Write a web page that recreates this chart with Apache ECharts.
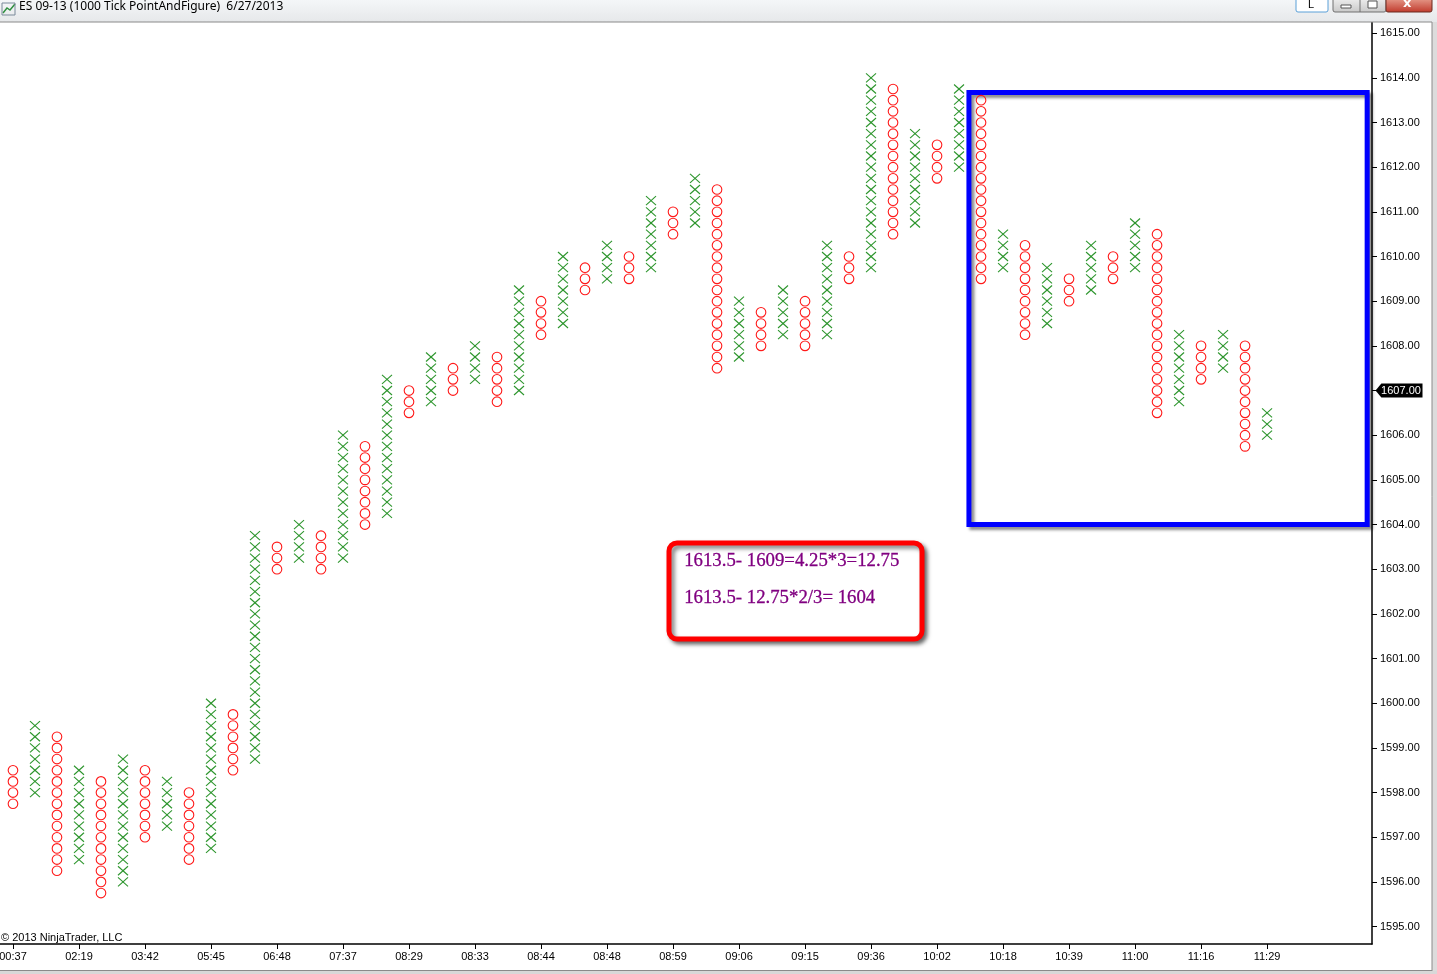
<!DOCTYPE html>
<html>
<head>
<meta charset="utf-8">
<title>ES 09-13 (1000 Tick PointAndFigure) 6/27/2013</title>
<script src="https://cdn.jsdelivr.net/npm/echarts@6/dist/echarts.min.js"></script>
<style>
  html, body { margin: 0; padding: 0; background: #fff; }
  #chart { width: 1437px; height: 974px; }
</style>
</head>
<body>
<div id="chart"></div>
<script>
// point & figure columns, box size 0.25, first column is O then X/O alternate
const boxSize = 0.25
const firstColumnIsX = false
const columnHigh = [
  1598.5, 1599.5, 1599.25, 1598.5, 1598.25, 1598.75, 1598.5, 1598.25, 1598.0, 1600.0,
  1599.75, 1603.75, 1603.5, 1604.0, 1603.75, 1606.0, 1605.75, 1607.25, 1607.0, 1607.75,
  1607.5, 1608.0, 1607.75, 1609.25, 1609.0, 1610.0, 1609.75, 1610.25, 1610.0, 1611.25,
  1611.0, 1611.75, 1611.5, 1609.0, 1608.75, 1609.25, 1609.0, 1610.25, 1610.0, 1614.0,
  1613.75, 1612.75, 1612.5, 1613.75, 1613.5, 1610.5, 1610.25, 1609.75, 1609.5, 1610.25,
  1610.0, 1610.75, 1610.5, 1608.25, 1608.0, 1608.25, 1608.0, 1606.5
]
const columnLow = [
  1597.75, 1598.0, 1596.25, 1596.5, 1595.75, 1596.0, 1597.0, 1597.25, 1596.5, 1596.75,
  1598.5, 1598.75, 1603.0, 1603.25, 1603.0, 1603.25, 1604.0, 1604.25, 1606.5, 1606.75,
  1607.0, 1607.25, 1606.75, 1607.0, 1608.25, 1608.5, 1609.25, 1609.5, 1609.5, 1609.75,
  1610.5, 1610.75, 1607.5, 1607.75, 1608.0, 1608.25, 1608.0, 1608.25, 1609.5, 1609.75,
  1610.5, 1610.75, 1611.75, 1612.0, 1609.5, 1609.75, 1608.25, 1608.5, 1609.0, 1609.25,
  1609.5, 1609.75, 1606.5, 1606.75, 1607.25, 1607.5, 1605.75, 1606.0
]
// time label under every 3rd column
const labelEvery = 3
const timeLabels = [
  '00:37', '02:19', '03:42', '05:45', '06:48', '07:37', '08:29', '08:33', '08:44', '08:48',
  '08:59', '09:06', '09:15', '09:36', '10:02', '10:18', '10:39', '11:00', '11:16', '11:29'
]
const priceTicks = [
  1595, 1596, 1597, 1598, 1599, 1600, 1601, 1602, 1603, 1604, 1605,
  1606, 1607, 1608, 1609, 1610, 1611, 1612, 1613, 1614, 1615
]
const lastPrice = 1607
// drawn target box (columns / prices) and the note next to it
const targetCols = [43.45, 61.55]
const targetPrices = [1613.67, 1604]
const noteLines = ['1613.5- 1609=4.25*3=12.75', '1613.5- 12.75*2/3= 1604']

const xMin = -0.59
const xMax = 61.77
const green = '#2c952c'
const red = '#ff1a1a'

const columns = columnHigh.map((h, i) => {
  const isX = (i % 2 === 0) === firstColumnIsX ? 1 : 0
  return [i, columnLow[i], h, isX]
})

function renderColumn (params, api) {
  const col = api.value(0)
  const low = api.value(1)
  const high = api.value(2)
  const isX = api.value(3)
  const n = Math.round((high - low) / boxSize)
  const children = []
  for (let k = 0; k <= n; k++) {
    const p = api.coord([col, low + k * boxSize])
    if (isX) {
      children.push({ type: 'line', shape: { x1: p[0] - 5, y1: p[1] - 4.5, x2: p[0] + 5, y2: p[1] + 4.5 }, style: { stroke: green, lineWidth: 1.1 } })
      children.push({ type: 'line', shape: { x1: p[0] - 5, y1: p[1] + 4.5, x2: p[0] + 5, y2: p[1] - 4.5 }, style: { stroke: green, lineWidth: 1.1 } })
    } else {
      children.push({ type: 'circle', shape: { cx: p[0], cy: p[1], r: 4.8 }, style: { fill: null, stroke: red, lineWidth: 1.1 } })
    }
  }
  return { type: 'group', children: children }
}

const tickCols = timeLabels.map((t, i) => i * labelEvery)
const axisFont = { fontFamily: 'Liberation Sans', fontSize: 11, color: '#000' }

const chart = echarts.init(document.getElementById('chart'))
const options = {
  animation: false,
  backgroundColor: '#fff',
  grid: { left: 0, right: 65, top: 22, bottom: 30, outerBoundsMode: 'none', containLabel: false },
  xAxis: {
    type: 'value',
    min: xMin,
    max: xMax,
    splitLine: { show: false },
    axisLine: { show: true, onZero: false, lineStyle: { color: '#000', width: 1.5 } },
    axisTick: { show: true, customValues: tickCols, length: 5, lineStyle: { color: '#000' } },
    axisLabel: Object.assign({
      customValues: tickCols,
      margin: 7,
      formatter: v => timeLabels[Math.round(v / labelEvery)]
    }, axisFont)
  },
  yAxis: {
    type: 'value',
    position: 'right',
    min: 1594.61,
    max: 1615.25,
    splitLine: { show: false },
    axisLine: { show: true, onZero: false, lineStyle: { color: '#000', width: 1.5 } },
    axisTick: { show: true, customValues: priceTicks, length: 5, lineStyle: { color: '#000' } },
    axisLabel: Object.assign({
      customValues: priceTicks.filter(p => p !== lastPrice),
      margin: 8,
      formatter: v => v.toFixed(2)
    }, axisFont)
  },
  series: [
    {
      type: 'custom',
      renderItem: renderColumn,
      data: columns,
      clip: false,
      markArea: {
        silent: true,
        itemStyle: {
          color: 'rgba(0,0,0,0)',
          borderColor: '#0000ff',
          borderWidth: 5,
          shadowColor: 'rgba(0,0,0,0.45)',
          shadowBlur: 3,
          shadowOffsetX: 3,
          shadowOffsetY: 3
        },
        data: [[
          { xAxis: targetCols[0], yAxis: targetPrices[0] },
          { xAxis: targetCols[1], yAxis: targetPrices[1] }
        ]]
      },
      markPoint: {
        silent: true,
        symbol: 'path://M0,7L6,0L48,0L48,14L6,14Z',
        symbolSize: [47, 14],
        symbolOffset: [27, 0],
        itemStyle: { color: '#000' },
        label: {
          show: true,
          offset: [2, 0],
          color: '#fff',
          fontFamily: 'Liberation Sans',
          fontSize: 11,
          formatter: () => lastPrice.toFixed(2)
        },
        data: [{ coord: [xMax, lastPrice] }]
      }
    }
  ],
  graphic: [
    // window title bar
    {
      type: 'rect', z: 100,
      shape: { x: 0, y: 0, width: 1437, height: 22 },
      style: {
        fill: new echarts.graphic.LinearGradient(0, 0, 0, 1, [
          { offset: 0, color: '#f4f6f8' }, { offset: 1, color: '#e6e8ea' }
        ])
      }
    },
    { type: 'polyline', z: 101, shape: { points: [[3, 13], [7, 8], [10, 10], [15, 4]] }, style: { stroke: '#2f8f3f', lineWidth: 1.5, fill: null } },
    { type: 'rect', z: 101, shape: { x: 2, y: 3, width: 13, height: 12 }, style: { fill: null, stroke: '#7a8a9a', lineWidth: 1 } },
    {
      type: 'text', z: 101, left: 19, top: 1,
      style: { text: 'ES 09-13 (1000 Tick PointAndFigure)  6/27/2013', fontFamily: 'Noto Sans', fontSize: 12, fill: '#000' }
    },
    { type: 'rect', z: 101, shape: { x: 1296, y: -2, width: 32, height: 14, r: 2 }, style: { fill: '#fff', stroke: '#5aa0d8', lineWidth: 1 } },
    { type: 'text', z: 102, left: 1308, top: -1, style: { text: 'L', fontFamily: 'Liberation Sans', fontSize: 11, fill: '#000' } },
    {
      type: 'rect', z: 101, shape: { x: 1333, y: -2, width: 53, height: 14, r: 2 },
      style: {
        fill: new echarts.graphic.LinearGradient(0, 0, 0, 1, [
          { offset: 0, color: '#f0f0f0' }, { offset: 1, color: '#c8c8c8' }
        ]),
        stroke: '#707070', lineWidth: 1
      }
    },
    { type: 'line', z: 102, shape: { x1: 1360, y1: -2, x2: 1360, y2: 12 }, style: { stroke: '#707070' } },
    { type: 'rect', z: 102, shape: { x: 1341, y: 5, width: 10, height: 3 }, style: { fill: '#fff', stroke: '#555' } },
    { type: 'rect', z: 102, shape: { x: 1368, y: 1, width: 9, height: 7 }, style: { fill: '#fff', stroke: '#555' } },
    {
      type: 'rect', z: 101, shape: { x: 1386, y: -2, width: 46, height: 14, r: 2 },
      style: {
        fill: new echarts.graphic.LinearGradient(0, 0, 0, 1, [
          { offset: 0, color: '#e8a090' }, { offset: 1, color: '#c0392b' }
        ]),
        stroke: '#6a2a20', lineWidth: 1
      }
    },
    { type: 'text', z: 102, left: 1403, top: -3, style: { text: 'x', fontFamily: 'DejaVu Sans', fontWeight: 'bold', fontSize: 13, fill: '#fff' } },
    // panel frame
    { type: 'line', z: 100, shape: { x1: 0, y1: 22, x2: 1432, y2: 22 }, style: { stroke: '#8a8a8a', lineWidth: 1 } },
    { type: 'rect', z: 99, shape: { x: 1432, y: 22, width: 5, height: 952 }, style: { fill: '#dcdcdc' } },
    { type: 'line', z: 100, shape: { x1: 1432, y1: 22, x2: 1432, y2: 971 }, style: { stroke: '#8a8a8a', lineWidth: 1 } },
    { type: 'rect', z: 99, shape: { x: 0, y: 971, width: 1437, height: 3 }, style: { fill: '#d8d8d8' } },
    { type: 'line', z: 100, shape: { x1: 0, y1: 970.5, x2: 1432, y2: 970.5 }, style: { stroke: '#8a8a8a', lineWidth: 1 } },
    // copyright
    {
      type: 'text', z: 50, left: 1, top: 932,
      style: { text: '\u00a9 2013 NinjaTrader, LLC', fontFamily: 'Liberation Sans', fontSize: 11, fill: '#000' }
    },
    // note box
    {
      type: 'rect', z: 60,
      shape: { x: 669, y: 543, width: 253, height: 96, r: 8 },
      style: {
        fill: '#fff', stroke: '#ff0000', lineWidth: 5,
        shadowColor: 'rgba(0,0,0,0.5)', shadowBlur: 4, shadowOffsetX: 3, shadowOffsetY: 3
      }
    },
    {
      type: 'text', z: 61, left: 684, top: 551,
      style: { text: noteLines[0], fontFamily: 'Liberation Serif', fontSize: 18.8, fill: '#800080', stroke: '#800080', lineWidth: 0.3 }
    },
    {
      type: 'text', z: 61, left: 684, top: 588,
      style: { text: noteLines[1], fontFamily: 'Liberation Serif', fontSize: 18.8, fill: '#800080', stroke: '#800080', lineWidth: 0.3 }
    }
  ]
}
chart.setOption(options)
</script>
</body>
</html>
